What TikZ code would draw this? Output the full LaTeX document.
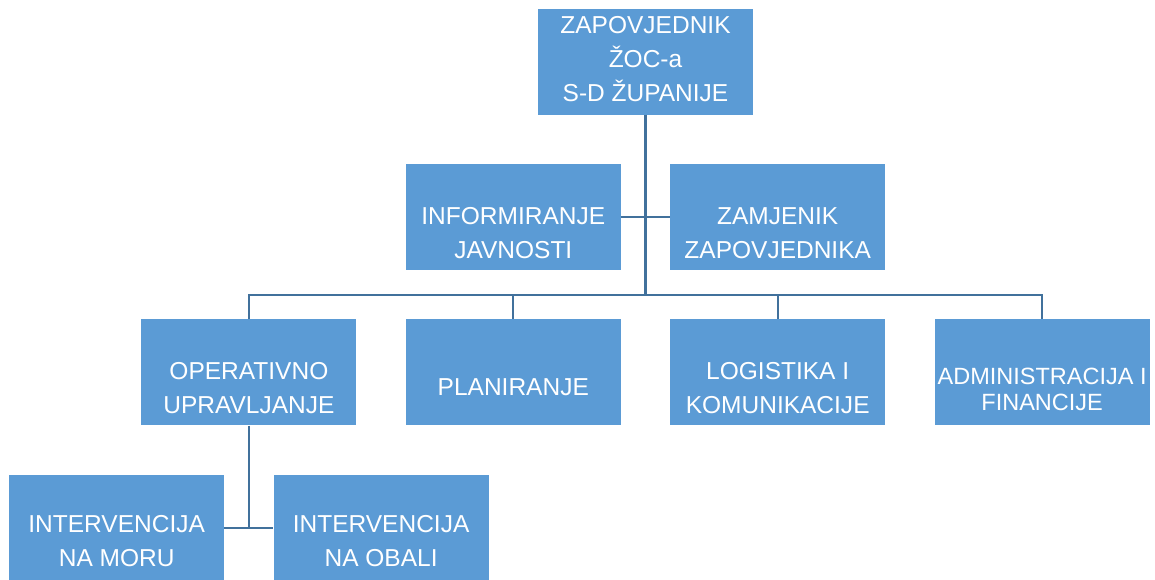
\documentclass[tikz,border=0pt]{standalone}
\usepackage{fontspec}
\setmainfont{Liberation Sans}
\usetikzlibrary{positioning}
\definecolor{boxblue}{HTML}{5B9BD5}
\definecolor{linkblue}{HTML}{41719C}

\begin{document}
\begin{tikzpicture}[
    node distance=49pt and 49pt,
    box/.style={fill=boxblue, minimum width=215pt, minimum height=106pt, inner sep=0pt},
    boxtext/.style={text=white, inner sep=0pt, align=center, yshift=-16pt,
                    font=\fontsize{24.5}{34}\selectfont},
    link/.style={draw=linkblue, line width=2.2pt}
]
    \useasboundingbox (-645.5pt,61.5pt) rectangle (509.5pt,-517.5pt);

    \node[box, label={[boxtext, yshift=18.5pt]center:ZAPOVJEDNIK\\ŽOC-a\\S-D ŽUPANIJE}] (top) at (0,0) {};
    \node[box, below left=49pt and 24.5pt of top.south,
          label={[boxtext]center:INFORMIRANJE\\JAVNOSTI}] (info) {};
    \node[box, below right=49pt and 24.5pt of top.south,
          label={[boxtext]center:ZAMJENIK\\ZAPOVJEDNIKA}] (zam) {};
    \node[box, below=of info, label={[boxtext, yshift=1pt]center:PLANIRANJE}] (plan) {};
    \node[box, below=of zam, label={[boxtext]center:LOGISTIKA I\\KOMUNIKACIJE}] (logist) {};
    \node[box, left=of plan, label={[boxtext]center:OPERATIVNO\\UPRAVLJANJE}] (oper) {};
    \node[box, right=of logist, label={[boxtext, yshift=-1.5pt,
          font=\fontsize{23.5}{26}\selectfont]center:ADMINISTRACIJA I\\FINANCIJE}] (admin) {};
    \node[box, below left=49pt and 24.5pt of oper.south,
          label={[boxtext, yshift=3pt]center:INTERVENCIJA\\NA MORU}] (moru) {};
    \node[box, below right=49pt and 24.5pt of oper.south,
          label={[boxtext, yshift=3pt]center:INTERVENCIJA\\NA OBALI}] (obali) {};

    \path (top.south |- plan.north) ++(0,24.5pt) coordinate (bus);

    \draw[link] (top) -- (bus);
    \draw[link] (info) -- (zam);
    \draw[link] (oper.north) |- (bus) -| (admin.north);
    \draw[link] (plan) -- (plan.north |- bus);
    \draw[link] (logist) -- (logist.north |- bus);
    \draw[link] (oper) -- (oper.south |- moru.east);
    \draw[link] (moru) -- (obali);

\end{tikzpicture}
\end{document}
